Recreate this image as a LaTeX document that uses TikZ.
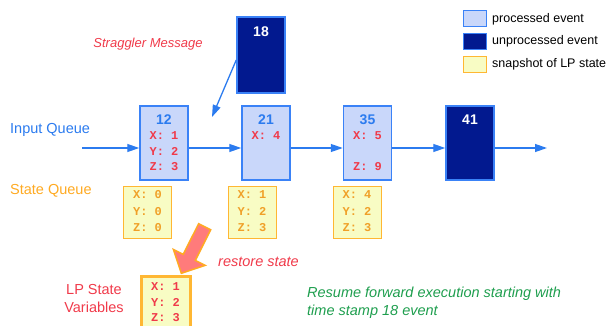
\documentclass[tikz,border=0pt]{standalone}
\usepackage{fontspec}
\setmainfont{Liberation Sans}
\setmonofont{Liberation Mono}
\usetikzlibrary{arrows.meta,positioning,shapes.arrows}
\definecolor{qblue}{HTML}{2B7BEF}
\definecolor{evfill}{HTML}{C9D7FA}
\definecolor{evline}{HTML}{3A82F7}
\definecolor{navy}{HTML}{02198F}
\definecolor{snapfill}{HTML}{F8FCC4}
\definecolor{snapline}{HTML}{FFB733}
\definecolor{sqorange}{HTML}{FFAA22}
\definecolor{valred}{HTML}{F03A4A}
\definecolor{snaptxt}{HTML}{F0A028}
\definecolor{rgreen}{HTML}{1E9E4E}
\definecolor{arrowpink}{HTML}{FF7B7B}

\begin{document}
\begin{tikzpicture}
    [x=1pt,y=-1pt,
     evbox/.style={draw=evline,fill=evfill,line width=1.5pt,minimum width=48pt,minimum height=74pt,inner sep=0},
     newbox/.style={evbox,fill=navy},
     snap/.style={draw=snapline,fill=snapfill,line width=1pt,minimum width=48pt,minimum height=52pt,inner sep=0},
     legbox/.style={line width=1pt,minimum width=23pt,minimum height=16pt,inner sep=0},
     legtxt/.style={anchor=west,inner sep=0,font=\fontsize{12.5}{14}\selectfont},
     num/.style={inner sep=0,font=\bfseries\fontsize{14}{14}\selectfont,text=qblue},
     val/.style={anchor=base,inner sep=0,align=left,text=valred,font=\ttfamily\bfseries\fontsize{12}{15.5}\selectfont},
     sval/.style={val,text=snaptxt,font=\ttfamily\bfseries\fontsize{12}{16.5}\selectfont},
     side/.style={inner sep=0,font=\fontsize{14.5}{18}\selectfont},
     flow/.style={-{Triangle[length=12pt,width=8pt]},draw=qblue,line width=1.3pt}]
    \useasboundingbox (0,0) rectangle (613,326);

    % legend
    \node [legbox,draw=evline,fill=evfill] (l1) at (474.5,19) {};
    \node [legtxt] (t1) at (492,19) {processed event};
    \node [legbox,draw=evline,fill=navy] (l2) at (474.5,41.5) {};
    \node [legtxt] (t2) at (492,41.5) {unprocessed event};
    \node [legbox,draw=snapline,fill=snapfill] (l3) at (474.5,64.5) {};
    \node [legtxt] (t3) at (492,64.5) {snapshot of LP state};

    % input queue (value nodes sit on their last baseline)
    \node [side,anchor=west,text=qblue] (iq) at (10,130) {Input Queue};
    \coordinate (in) at (82,148);
    \node [evbox] (e12) at (164,143) {};
    \node [evbox] (e21) at (266,143) {};
    \node [evbox] (e35) at (367.5,143) {};
    \node [newbox] (e41) at (470,143) {};
    \coordinate (out) at (547,148);
    \node [num] (n12) at (164,120) {12};
    \node [num] (n21) at (266,120) {21};
    \node [num] (n35) at (367.5,120) {35};
    \node [num,text=white] (n41) at (470,120) {41};
    \node [val] (v12) at (164,170.5) {X: 1\\Y: 2\\Z: 3};
    \node [val] (v21) at (266,139.5) {X: 4};
    \node [val] (v35) at (367.5,170.5) {X: 5\\[15.5pt]Z: 9};
    \draw [flow] (in) -- (in -| e12.west);
    \draw [flow] (in -| e12.east) -- (in -| e21.west);
    \draw [flow] (in -| e21.east) -- (in -| e35.west);
    \draw [flow] (in -| e35.east) -- (in -| e41.west);
    \draw [flow] (in -| e41.east) -- (out);

    % straggler
    \node [font=\itshape\fontsize{13}{14}\selectfont,text=valred,inner sep=0] (sm) at (148,44) {Straggler Message};
    \node [newbox,minimum height=76pt] (e18) at (261,55) {};
    \node [num,text=white] (n18) at (261,32) {18};
    \coordinate (hit) at (212,117);
    \draw [flow] ([yshift=-5pt]e18.west) -- (hit);

    % state queue
    \node [side,anchor=west,text=sqorange] (sq) at (10,191) {State Queue};
    \node [snap] (s1) at (147.5,212) {};
    \node [snap] (s2) at (252,212) {};
    \node [snap] (s3) at (357,212) {};
    \node [sval] (w1) at (147.5,231.5) {X: 0\\Y: 0\\Z: 0};
    \node [sval] (w2) at (252,231.5) {X: 1\\Y: 2\\Z: 3};
    \node [sval] (w3) at (357,231.5) {X: 4\\Y: 2\\Z: 3};

    % restore
    \node [single arrow,draw=sqorange,fill=arrowpink,line width=1.5pt,rotate=243.4,
           minimum height=52pt,inner xsep=0,inner ysep=6pt,single arrow head extend=11pt] (ra) at (194.5,247) {};
    \node [side,anchor=west,font=\itshape\fontsize{14.5}{18}\selectfont,text=valred] (rs) at (218,262) {restore state};

    % LP state
    \node [side,align=center,text=valred] (lp) at (94,299) {LP State\\Variables};
    \node [snap,line width=3pt,minimum width=49pt,minimum height=56pt] (lps) at (165.5,304) {};
    \node [val] (lpv) at (165.5,321.5) {X: 1\\Y: 2\\Z: 3};

    \node [side,anchor=north west,align=left,font=\itshape\fontsize{14.5}{18}\selectfont,text=rgreen] (rf) at (307,287)
      {Resume forward execution starting with\\time stamp 18 event};
\end{tikzpicture}
\end{document}
